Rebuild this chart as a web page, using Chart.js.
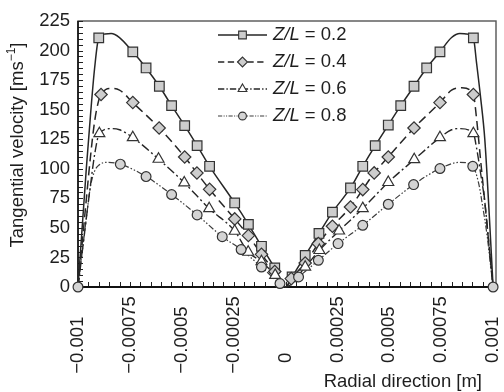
<!DOCTYPE html>
<html><head><meta charset="utf-8">
<script src="https://cdn.jsdelivr.net/npm/chart.js@4/dist/chart.umd.min.js"></script>
<style>html,body{margin:0;padding:0;background:#fff;overflow:hidden}canvas{display:block}</style>
</head><body>
<canvas id="c" width="504" height="392"></canvas>
<script>
// ---- data (x: radial position [m], y: tangential velocity [m/s]) ----
const seriesNames = ['0.2', '0.4', '0.6', '0.8'];
const xTickValues = [-0.001, -0.00075, -0.0005, -0.00025, 0, 0.00025, 0.0005, 0.00075, 0.001];
const xTickLabels = ['\u22120.001', '\u22120.00075', '\u22120.0005', '\u22120.00025', '0', '0.00025', '0.0005', '0.00075', '0.001'];
const yTickValues = [0, 25, 50, 75, 100, 125, 150, 175, 200, 225];

const z02Markers = [[-0.0009,210.7],[-0.000736,198.9],[-0.000672,185.3],[-0.000608,169.8],[-0.000549,153.4],[-0.000486,136.5],[-0.000426,119.6],[-0.000366,102.1],[-0.000245,71.1],[-0.000179,53],[-0.000116,34.4],[-0.000052,16.1],[0.0000316,8.5],[0.0000947,26.7],[0.000161,45.3],[0.000226,63.3],[0.000313,83.8],[0.000372,102.1],[0.000432,119.6],[0.000495,137],[0.000555,153.4],[0.000619,169.8],[0.00068,185.3],[0.000744,198.9],[0.000905,210.7]];
const z02Line = [[-0.001,0],[-0.00098,50],[-0.00096,100],[-0.00094,145],[-0.00092,185],[-0.00087,214],[-0.00084,214.4],[-0.0008,211],[0,0],[0.0008,211],[0.00084,214.4],[0.00087,214],[0.00092,190],[0.00094,160],[0.00096,125],[0.00098,66],[0.001,0]];

const z04Markers = [[-0.000889,162.8],[-0.000736,156],[-0.000609,134.5],[-0.000486,110],[-0.000427,96.4],[-0.000366,82.6],[-0.000245,57.6],[-0.000179,43.5],[-0.000116,27.6],[-0.000052,13.1],[0.0000275,7.1],[0.0000947,20.3],[0.000158,36.7],[0.000226,51.4],[0.000313,67.7],[0.000372,82.4],[0.000427,96.5],[0.000495,110],[0.000619,134.5],[0.000744,156],[0.000905,162.8]];
const z04Line = [[-0.001,0],[-0.00098,37],[-0.00096,74],[-0.00094,110],[-0.00092,140],[-0.0009,158],[-0.00085,168],[-0.0008,166.5],[0,0],[0.0008,166.5],[0.00085,168.5],[0.00092,143],[0.00094,107],[0.00096,72],[0.00098,36],[0.001,0]];

const z06Markers = [[-0.000897,129.8],[-0.000736,126.4],[-0.000612,108.2],[-0.000488,88.2],[-0.000368,66.4],[-0.000245,47.3],[-0.00018,29.5],[-0.000116,21.5],[-0.00005,10],[0.0000947,16.9],[0.000163,31],[0.000258,47.5],[0.000372,66.5],[0.000495,88.5],[0.00062,107.8],[0.000744,126.4],[0.000905,129.8]];
const z06Line = [[-0.001,0],[-0.00098,29],[-0.00096,58],[-0.00094,86],[-0.00092,112],[-0.00084,134],[-0.0008,133],[0,0],[0.0008,133],[0.00084,134],[0.00092,118],[0.00094,96],[0.00096,72],[0.00098,36],[0.001,0]];

const z08Markers = [[-0.001,0],[-0.000796,103.9],[-0.000672,93.4],[-0.000549,78.2],[-0.000426,61],[-0.000305,42.6],[-0.000214,31.7],[-0.000116,16.9],[-0.0000268,2.9],[0.0000627,8.5],[0.000158,22.6],[0.000253,36.7],[0.000372,52.2],[0.000495,70],[0.000617,86.6],[0.000744,100.2],[0.000902,102.1],[0.001,0]];
const z08Line = [[-0.00098,29],[-0.00096,58],[-0.00094,85],[-0.00092,98],[-0.0009,103],[-0.00086,105.5],[0,0],[0.00084,105.5],[0.00093,88],[0.00095,68],[0.00097,45],[0.00099,15]];

// ---- styles ----
const styles = [
  {dash: [], width: 1.5, color: '#262626', point: 'rect', radius: 6.8, fill: '#cdcdcd'},
  {dash: [9, 5], width: 1.5, color: '#262626', point: 'rectRot', radius: 6.2, fill: '#cdcdcd'},
  {dash: [9, 3, 2, 3], width: 1.4, color: '#262626', point: 'triangle', radius: 6.3, fill: '#ffffff'},
  {dash: [6, 2, 1.5, 2, 1.5, 2], width: 1.2, color: '#3c3c3c', point: 'circle', radius: 4.9, fill: '#d4d4d4'}
];
const markerSets = [z02Markers, z04Markers, z06Markers, z08Markers];
const lineSets = [z02Line, z04Line, z06Line, z08Line];

const toPts = arr => arr.map(p => ({x: p[0], y: p[1]}));
const merged = (a, b) => toPts(a.concat(b).sort((p, q) => p[0] - q[0]));

const datasets = [];
styles.forEach((s, i) => {
  datasets.push({
    label: 'Z/L = ' + seriesNames[i], data: merged(markerSets[i], lineSets[i]), showLine: true,
    borderColor: s.color, borderWidth: s.width, borderDash: s.dash, pointRadius: 0,
    cubicInterpolationMode: 'monotone', clip: false, order: 2
  });
});
styles.forEach((s, i) => {
  datasets.push({
    label: 'm' + i, data: toPts(markerSets[i]), showLine: false, pointStyle: s.point,
    pointRadius: s.radius, pointBackgroundColor: s.fill, pointBorderColor: '#333',
    pointBorderWidth: 1.2, clip: false, order: 1 - i * 0.1
  });
});

const FONT = "'Liberation Sans', Arial, Helvetica, sans-serif";
const FS = '18.5px ';
const TEXT = '#1e1e1e';

const deco = {
  id: 'deco',
  beforeDatasetsDraw(chart) {
    const {ctx, chartArea: a, scales: {x, y}} = chart;
    ctx.save();
    ctx.strokeStyle = '#555'; ctx.lineWidth = 1.4;
    ctx.strokeRect(a.left, a.top, a.right - a.left, a.bottom - a.top);
    ctx.strokeStyle = '#222'; ctx.lineWidth = 1;
    ctx.beginPath();
    for (let v = 0; v <= 225.001; v += 5) {
      const py = Math.round(y.getPixelForValue(v)) + 0.5;
      ctx.moveTo(a.left, py); ctx.lineTo(a.left + 5, py);
    }
    for (let k = -20; k <= 20; k++) {
      const px = Math.round(x.getPixelForValue(k * 0.00005)) + 0.5;
      ctx.moveTo(px, a.bottom); ctx.lineTo(px, a.bottom - 5);
    }
    ctx.stroke();
    ctx.strokeStyle = '#111'; ctx.lineWidth = 2.2;
    ctx.beginPath(); ctx.moveTo(a.left, a.bottom); ctx.lineTo(a.right, a.bottom); ctx.stroke();
    ctx.lineWidth = 1.6;
    ctx.beginPath(); ctx.moveTo(a.left, a.top); ctx.lineTo(a.left, a.bottom); ctx.stroke();
    ctx.restore();
  },
  afterDraw(chart) {
    const {ctx, chartArea: a, scales: {x, y}} = chart;
    ctx.save();
    ctx.fillStyle = TEXT;
    ctx.font = FS + FONT;
    // y tick labels
    ctx.textAlign = 'right'; ctx.textBaseline = 'middle';
    yTickValues.forEach(v => ctx.fillText(String(v), 70, y.getPixelForValue(v)));
    // x tick labels (rotated, start-aligned at bottom; minus sign hangs below)
    const minusW = ctx.measureText('\u2212').width;
    xTickValues.forEach((v, i) => {
      const lbl = xTickLabels[i];
      const neg = lbl.charAt(0) === '\u2212';
      ctx.save();
      ctx.translate(x.getPixelForValue(v), 363 + (neg ? minusW : 0));
      ctx.rotate(-Math.PI / 2);
      ctx.textAlign = 'left'; ctx.textBaseline = 'middle';
      ctx.fillText(lbl, 0, 0);
      ctx.restore();
    });
    // x title
    ctx.textAlign = 'right'; ctx.textBaseline = 'alphabetic';
    ctx.fillText('Radial direction [m]', 482, 387);
    // y title with superscript
    ctx.save();
    ctx.translate(18, 145); ctx.rotate(-Math.PI / 2);
    ctx.textBaseline = 'middle'; ctx.textAlign = 'left';
    const t1 = 'Tangential velocity [ms', t2 = '\u22121', t3 = ']';
    ctx.font = FS + FONT; const w1 = ctx.measureText(t1).width, w3 = ctx.measureText(t3).width;
    ctx.font = '12px ' + FONT; const w2 = ctx.measureText(t2).width;
    let sx = -(w1 + w2 + w3) / 2;
    ctx.font = FS + FONT; ctx.fillText(t1, sx, 0); sx += w1;
    ctx.font = '12px ' + FONT; ctx.fillText(t2, sx, -6); sx += w2;
    ctx.font = FS + FONT; ctx.fillText(t3, sx, 0);
    ctx.restore();
    // legend
    styles.forEach((s, i) => {
      const ly = 35 + i * 27;
      ctx.save();
      ctx.strokeStyle = s.color; ctx.lineWidth = s.width; ctx.setLineDash(s.dash.map(d => d * 0.7));
      ctx.beginPath(); ctx.moveTo(218, ly); ctx.lineTo(267, ly); ctx.stroke();
      ctx.setLineDash([]);
      ctx.fillStyle = s.fill; ctx.strokeStyle = '#333'; ctx.lineWidth = 1.1;
      Chart.helpers.drawPoint(ctx, {pointStyle: s.point, radius: s.radius * 0.8, rotation: 0, borderWidth: 1.1}, 242.5, ly);
      ctx.restore();
      ctx.textAlign = 'left'; ctx.textBaseline = 'middle';
      ctx.font = 'italic ' + FS + FONT;
      ctx.fillText('Z/L', 273, ly);
      const wi = ctx.measureText('Z/L').width;
      ctx.font = FS + FONT;
      ctx.fillText(' = ' + seriesNames[i], 273 + wi, ly);
    });
    ctx.restore();
  }
};

new Chart(document.getElementById('c'), {
  type: 'scatter',
  data: {datasets},
  options: {
    responsive: false, animation: false, devicePixelRatio: 1,
    layout: {padding: {left: 78, right: 2, top: 21, bottom: 105}},
    plugins: {legend: {display: false}, tooltip: {enabled: false}},
    scales: {
      x: {type: 'linear', min: -0.001, max: 0.001014, display: false},
      y: {type: 'linear', min: 0, max: 225, display: false}
    }
  },
  plugins: [deco]
});
</script>
</body></html>
